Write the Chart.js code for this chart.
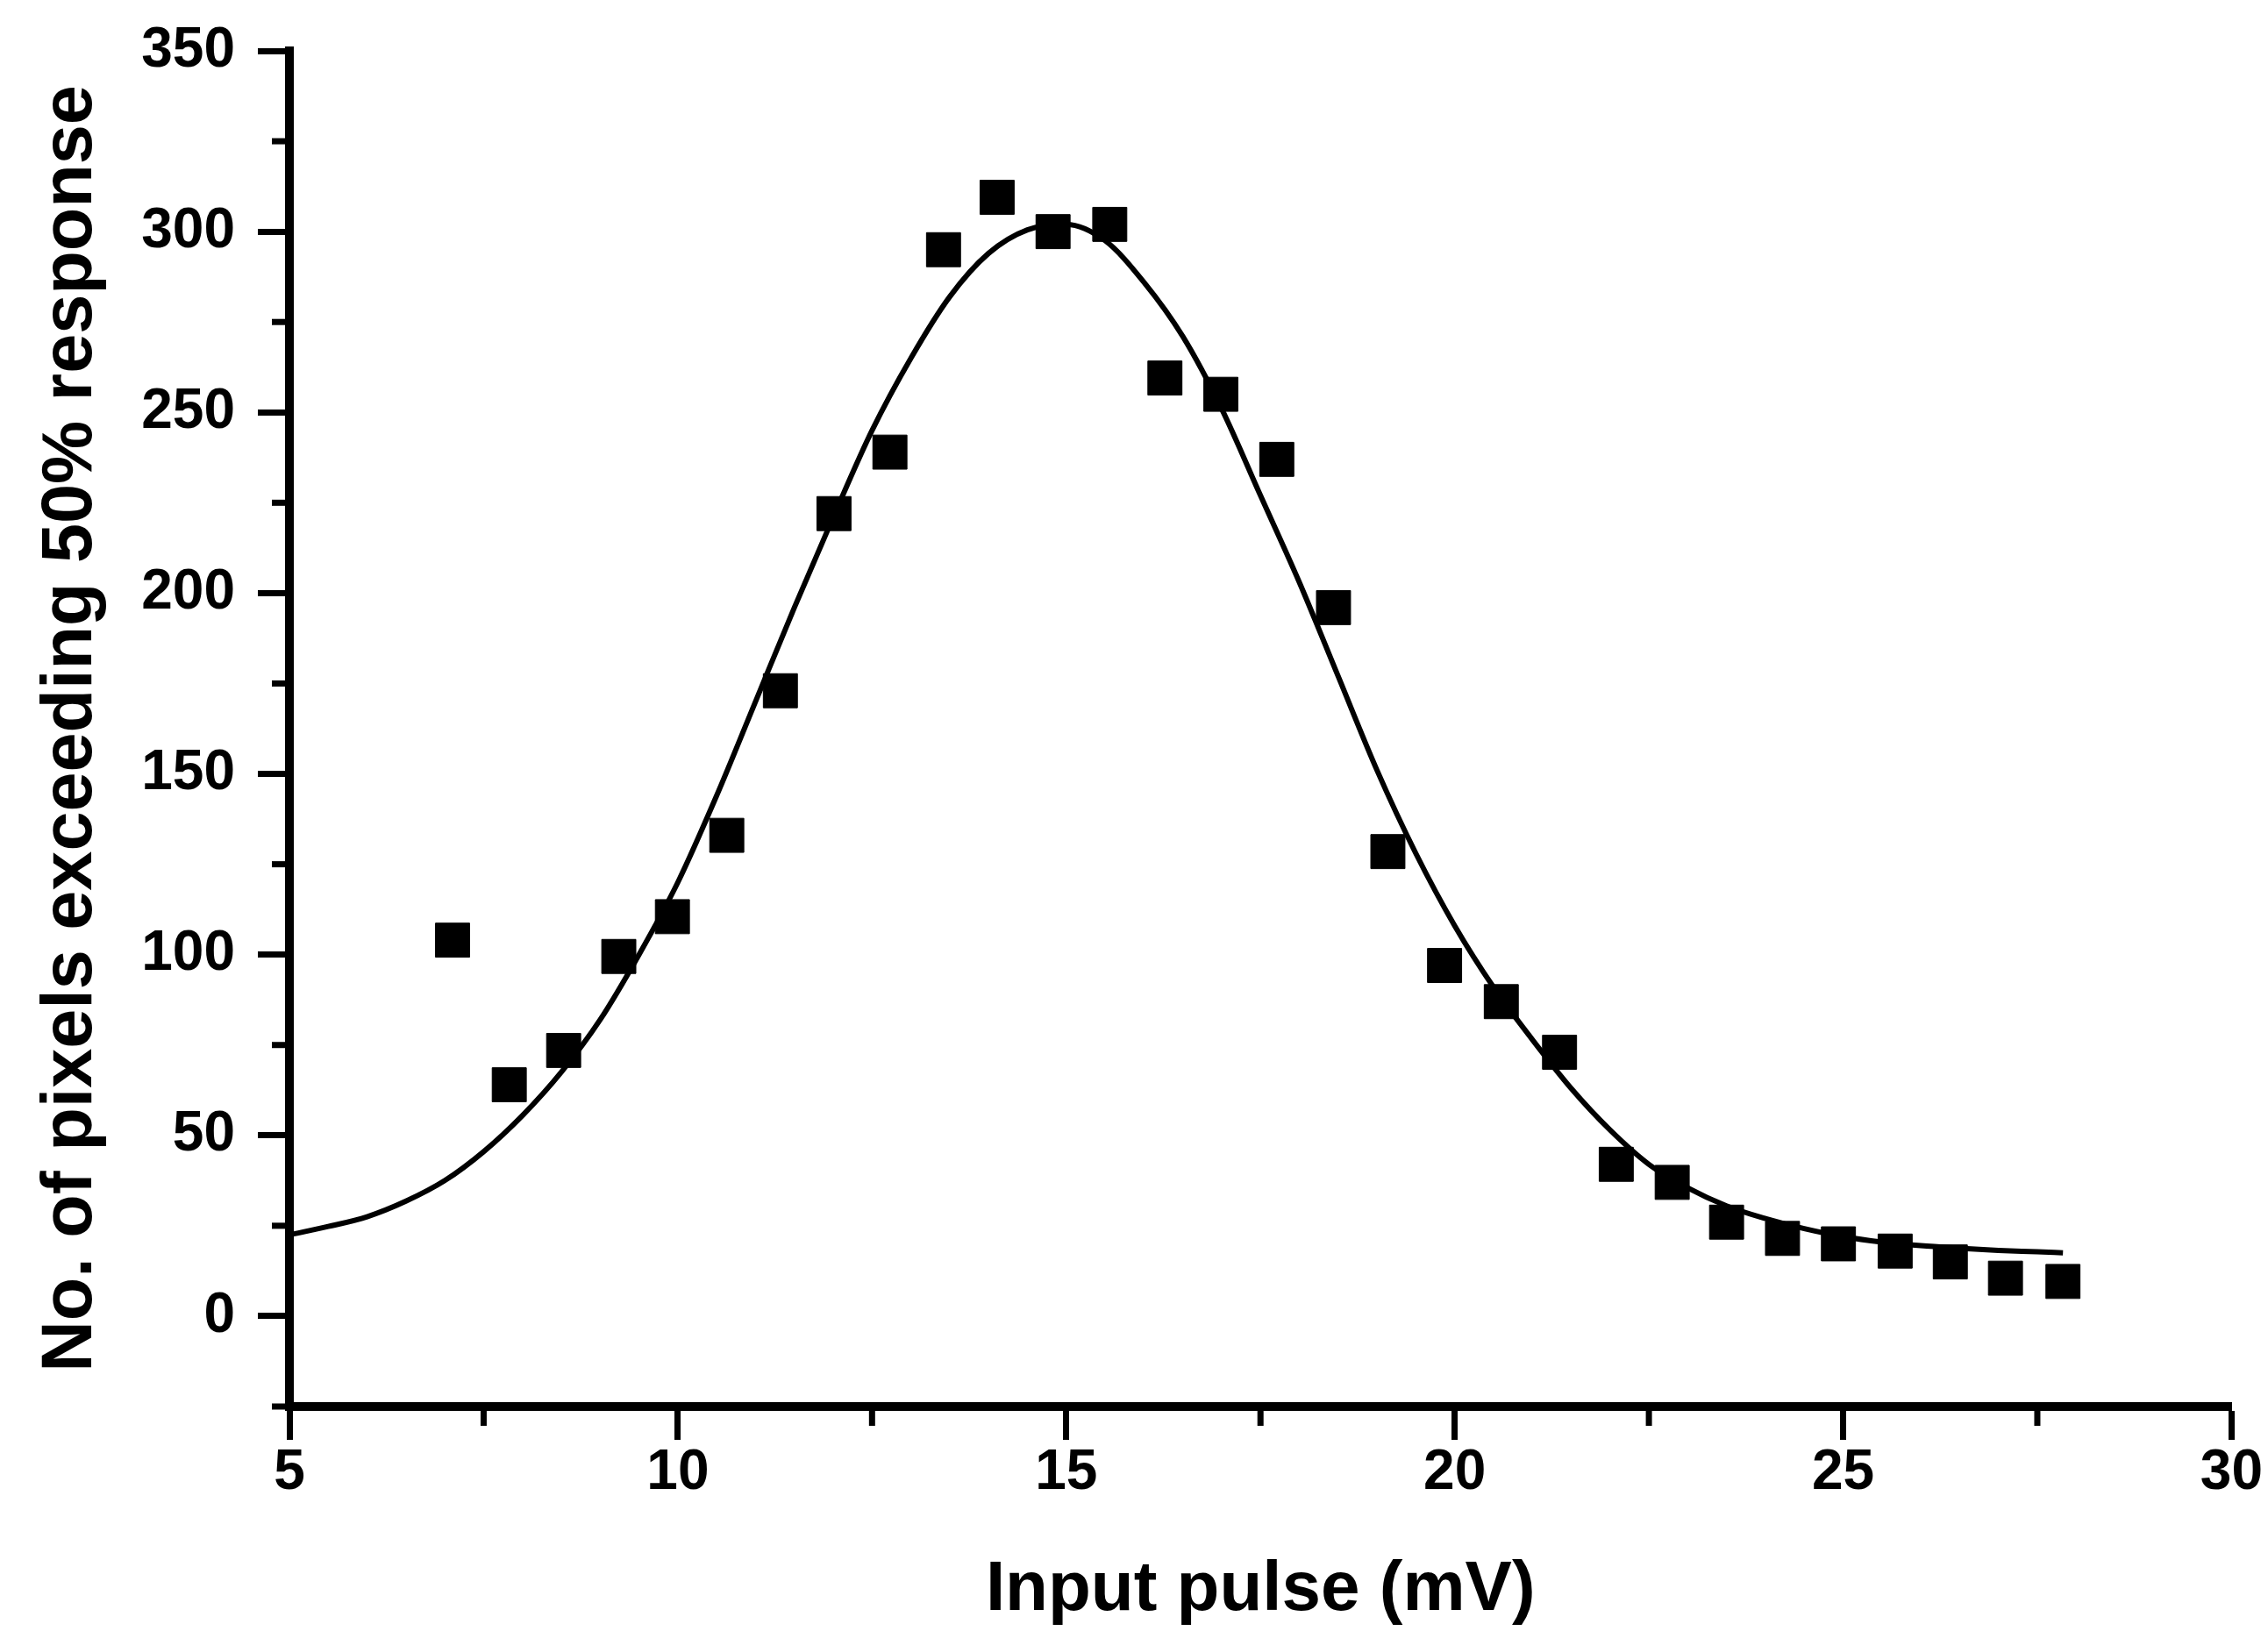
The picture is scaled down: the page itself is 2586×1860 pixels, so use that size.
<!DOCTYPE html>
<html>
<head>
<meta charset="utf-8">
<script src="https://cdn.jsdelivr.net/npm/chart.js@4.4.1/dist/chart.umd.min.js"></script>
<style>
  body { margin: 0; background: #fff; }
  canvas { display: block; }
</style>
</head>
<body>
<canvas id="pulseChart" width="2586" height="1860"></canvas>
<script>
// measured points (input pulse in mV, pixel count)
const pulseMv = [7.10, 7.83, 8.53, 9.24, 9.93, 10.63, 11.32, 12.01, 12.73, 13.42,
  14.11, 14.83, 15.56, 16.27, 16.99, 17.71, 18.44, 19.14, 19.87, 20.60,
  21.35, 22.08, 22.80, 23.50, 24.22, 24.94, 25.67, 26.38, 27.09, 27.83];
const pixelCount = [104, 64, 73.5, 99.5, 110.5, 133, 173, 222, 239, 295,
  309.5, 300, 302, 259.5, 255, 237, 196, 128.5, 97, 87,
  73, 42, 37, 26, 21.5, 20, 18, 15, 10.5, 9.6];

// fitted curve
const fitMv = [5, 5.5, 6, 6.5, 7, 7.5, 8, 8.5, 9, 9.5,
  10, 10.5, 11, 11.5, 12, 12.5, 13, 13.5, 14, 14.5,
  15, 15.5, 16, 16.5, 17, 17.5, 18, 18.5, 19, 19.5,
  20, 20.5, 21, 21.5, 22, 22.5, 23, 23.5, 24, 24.5,
  25, 25.5, 26, 26.5, 27, 27.5, 27.83];
const fitCount = [22.5, 24.8, 27.5, 31.8, 37.5, 45.5, 55.5, 67.5, 82, 100,
  120, 144, 170, 196, 221, 245, 265, 282, 294, 300.5,
  302, 297.5, 286, 271, 251, 227, 203, 177, 151, 128,
  108, 91, 76.5, 63, 51.5, 42, 35.5, 30.5, 27, 24.2,
  22, 20.5, 19.5, 18.8, 18.2, 17.8, 17.5];

const xTickValues = [5, 10, 15, 20, 25, 30];
const yTickValues = [0, 50, 100, 150, 200, 250, 300, 350];
const xMinorTicks = [7.5, 12.5, 17.5, 22.5, 27.5];
const yMinorTicks = [-25, 25, 75, 125, 175, 225, 275, 325];

const FONT = '"Liberation Sans", Arial, Helvetica, sans-serif';

// short minor ticks, drawn through the chart's own scales
const minorTicks = {
  id: 'minorTicks',
  afterDraw(chart) {
    const { ctx, chartArea, scales } = chart;
    ctx.save();
    ctx.strokeStyle = '#000';
    ctx.lineWidth = 7;
    xMinorTicks.forEach(v => {
      const px = scales.x.getPixelForValue(v);
      ctx.beginPath();
      ctx.moveTo(px, chartArea.bottom);
      ctx.lineTo(px, chartArea.bottom + 22);
      ctx.stroke();
    });
    yMinorTicks.forEach(v => {
      const py = scales.y.getPixelForValue(v);
      ctx.beginPath();
      ctx.moveTo(chartArea.left, py);
      ctx.lineTo(chartArea.left - 20, py);
      ctx.stroke();
    });
    ctx.restore();
  }
};

const ctx = document.getElementById('pulseChart').getContext('2d');

new Chart(ctx, {
  type: 'scatter',
  data: {
    datasets: [
      {
        label: 'Fit',
        data: fitMv.map((x, i) => ({ x: x, y: fitCount[i] })),
        showLine: true,
        borderColor: '#000',
        borderWidth: 6,
        pointRadius: 0,
        tension: 0.4,
        cubicInterpolationMode: 'monotone',
        order: 2
      },
      {
        label: 'Pixels',
        data: pulseMv.map((x, i) => ({ x: x, y: pixelCount[i] })),
        pointStyle: 'rect',
        pointRadius: 27.5,
        pointBackgroundColor: '#000',
        pointBorderColor: '#000',
        pointBorderWidth: 1,
        order: 1
      }
    ]
  },
  options: {
    responsive: false,
    animation: false,
    layout: { padding: { left: 0, top: 53, right: 38, bottom: 0 } },
    plugins: {
      legend: { display: false },
      tooltip: { enabled: false }
    },
    scales: {
      x: {
        type: 'linear',
        min: 5,
        max: 30,
        afterBuildTicks: s => { s.ticks = xTickValues.map(v => ({ value: v })); },
        afterFit: s => { s.height = 256; },
        grid: { drawOnChartArea: false, tickLength: 38, tickWidth: 7, tickColor: '#000' },
        border: { display: true, color: '#000', width: 10 },
        ticks: {
          color: '#000',
          padding: 6,
          maxRotation: 0,
          autoSkip: false,
          font: { family: FONT, size: 64, weight: 'bold', lineHeight: 1 }
        },
        title: {
          display: true,
          text: 'Input pulse (mV)',
          color: '#000',
          font: { family: FONT, size: 80, weight: 'bold', lineHeight: 1 },
          padding: { top: 0, bottom: 6 }
        }
      },
      y: {
        type: 'linear',
        min: -25,
        max: 350,
        afterBuildTicks: s => { s.ticks = yTickValues.map(v => ({ value: v })); },
        afterFit: s => { s.width = 330; },
        grid: { drawOnChartArea: false, tickLength: 36, tickWidth: 7, tickColor: '#000' },
        border: { display: true, color: '#000', width: 10 },
        ticks: {
          color: '#000',
          padding: 26,
          autoSkip: false,
          font: { family: FONT, size: 64, weight: 'bold', lineHeight: 1 }
        },
        title: {
          display: true,
          text: 'No. of pixels exceeding 50% response',
          color: '#000',
          font: { family: FONT, size: 81, weight: 'bold', lineHeight: 1 },
          padding: { top: 41, bottom: 0 }
        }
      }
    }
  },
  plugins: [minorTicks]
});
</script>
</body>
</html>
